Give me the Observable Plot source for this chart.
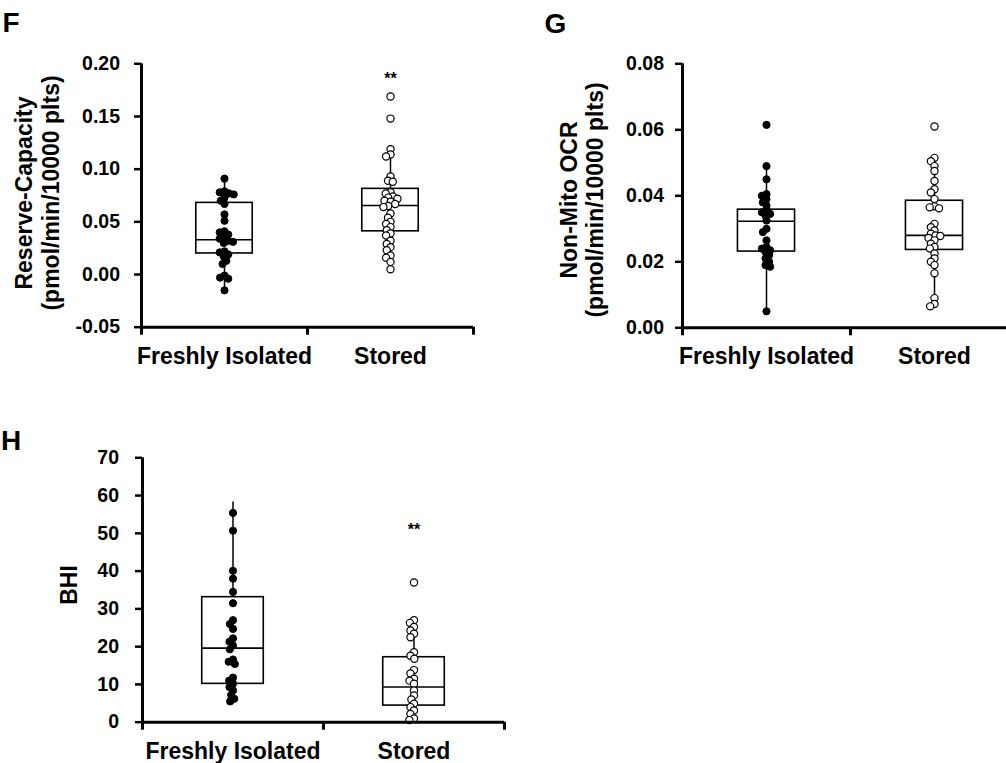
<!DOCTYPE html>
<html><head><meta charset="utf-8">
<script src="https://cdn.jsdelivr.net/npm/d3@7"></script>
<script src="https://cdn.jsdelivr.net/npm/@observablehq/plot@0.6"></script>
<style>
html,body{margin:0;padding:0;background:#fff;overflow:hidden;width:1006px;height:763px;}
#root{position:relative;width:1006px;height:763px;overflow:hidden;}
#root svg{position:absolute;overflow:visible;}
svg [aria-label^="fx-axis"] text{font-size:23px;}
svg [aria-label^="y-axis"] path, svg [aria-label^="y-axis"] line{stroke-width:2.5px;}
</style></head><body><div id="root"></div>
<script>
// ---- data ----
const groups = ["Freshly Isolated", "Stored"];

// Panel F: Reserve-Capacity
const fFresh = [0.091, 0.079, 0.078, 0.077, 0.076, 0.073, 0.070, 0.067, 0.057, 0.051, 0.041, 0.040, 0.038, 0.035, 0.034, 0.032, 0.031, 0.030, 0.022, 0.021, 0.019, 0.017, 0.013, 0.010, -0.001, -0.003, -0.004, -0.015];
const fStored = [0.169, 0.148, 0.119, 0.114, 0.112, 0.093, 0.089, 0.088, 0.078, 0.077, 0.074, 0.073, 0.072, 0.070, 0.069, 0.067, 0.065, 0.064, 0.058, 0.054, 0.050, 0.048, 0.045, 0.042, 0.039, 0.037, 0.032, 0.029, 0.026, 0.023, 0.018, 0.016, 0.012, 0.005];
const fBoxFresh = [-0.015, 0.020, 0.033, 0.068, 0.091];   // low, q1, median, q3, high
const fBoxStored = [0.005, 0.041, 0.0655, 0.0813, 0.117];
const fTicks = [-0.05, 0.00, 0.05, 0.10, 0.15, 0.20];
const fSig = ["", "**"];
const fSigAt = 0.186;

// Panel G: Non-Mito OCR
const gFresh = [0.0615, 0.049, 0.045, 0.0405, 0.040, 0.039, 0.038, 0.037, 0.0355, 0.035, 0.0345, 0.034, 0.0325, 0.030, 0.029, 0.0265, 0.0245, 0.024, 0.0235, 0.023, 0.022, 0.021, 0.020, 0.019, 0.0185, 0.005];
const gStored = [0.061, 0.0515, 0.0505, 0.049, 0.0475, 0.0445, 0.042, 0.041, 0.039, 0.0368, 0.0365, 0.0362, 0.0315, 0.0305, 0.0295, 0.0285, 0.028, 0.0278, 0.0272, 0.0265, 0.0255, 0.0245, 0.024, 0.0225, 0.021, 0.020, 0.019, 0.0165, 0.009, 0.0072, 0.0065];
const gBoxFresh = [0.005, 0.0231, 0.0323, 0.0358, 0.049];
const gBoxStored = [0.0065, 0.0236, 0.028, 0.0385, 0.0512];
const gTicks = [0.00, 0.02, 0.04, 0.06, 0.08];

// Panel H: BHI
const hFresh = [55.4, 50.7, 40.1, 38.0, 34.5, 31.5, 27.0, 26.0, 24.7, 22.2, 21.3, 20.3, 19.3, 16.6, 16.0, 15.4, 11.8, 11.0, 10.2, 9.3, 8.4, 7.2, 6.2, 5.5];
const hStored = [37.0, 27.0, 26.3, 25.2, 24.3, 23.4, 22.5, 18.5, 17.6, 16.8, 13.8, 12.9, 11.5, 11.0, 10.2, 8.4, 7.1, 6.0, 4.9, 4.0, 3.1, 2.2, 1.0, 0.6];
const hBoxFresh = [5.5, 10.15, 19.6, 33.1, 58.3];
const hBoxStored = [0, 4.4, 9.3, 17.2, 26.9];
const hTicks = [0, 10, 20, 30, 40, 50, 60, 70];
const hSig = ["", "**"];
const hSigAt = 50.8;

// ---- drawing ----
const FONT = '"Liberation Sans", Arial, Helvetica, sans-serif';
const HALF = 0.34; // box half-width within each band (band spans -1..1)
const DODGE = {anchor: "middle", padding: -2.3};

function panel(o) {
  const pts = (arr, g) => arr.map(v => ({group: g, v}));
  const boxes = [o.boxFresh, o.boxStored].map((b, i) => ({group: groups[i], lo: b[0], q1: b[1], med: b[2], q3: b[3], hi: b[4]}));
  const sig = (o.sig || []).map((s, i) => ({group: groups[i], s, v: o.sigAt})).filter(d => d.s);
  const lo = o.ticks[0], hi = o.ticks[o.ticks.length - 1];
  const edgeTicks = [{group: groups[0], x: -1}, ...groups.map(g => ({group: g, x: 1}))];
  const svg = Plot.plot({
    width: o.width, height: o.height,
    marginLeft: o.ml, marginRight: o.mr, marginTop: o.mt, marginBottom: o.mb,
    style: {fontFamily: FONT, fontWeight: "bold", fontSize: "19.5px", color: "#000", background: "transparent"},
    fx: {domain: groups, padding: 0, axis: "bottom", label: null, tickSize: 0, tickPadding: 20},
    x: {domain: [-1, 1], axis: null},
    y: {domain: [lo, hi], ticks: o.ticks, tickFormat: o.fmt, tickSize: 7, tickPadding: o.tp, label: null},
    marks: [
      Plot.ruleX(boxes, {fx: "group", x: () => 0, y1: "lo", y2: "hi", stroke: "#000", strokeWidth: 1.5}),
      Plot.rectY(boxes, {fx: "group", x1: () => -HALF, x2: () => HALF, y1: "q1", y2: "q3", fill: "white", stroke: "#000", strokeWidth: 1.6}),
      Plot.ruleY(boxes, {fx: "group", y: "med", x1: () => -HALF, x2: () => HALF, stroke: "#000", strokeWidth: 1.6}),
      Plot.dot(pts(o.fresh, groups[0]), Plot.dodgeX(DODGE, {fx: "group", y: "v", r: 3.6, fill: "#000", stroke: "#000", strokeWidth: 1})),
      Plot.dot(pts(o.stored, groups[1]), Plot.dodgeX(DODGE, {fx: "group", y: "v", r: 3.6, fill: "#fff", stroke: "#000", strokeWidth: 1.2})),
      Plot.text(sig, {fx: "group", x: () => 0, y: "v", text: "s", fontSize: 16, fontWeight: "bold"}),
      // axis lines
      Plot.ruleX([{group: groups[0]}], {fx: "group", x: () => -1, y1: () => lo, y2: () => hi, stroke: "#000", strokeWidth: 3}),
      Plot.ruleY([lo], {stroke: "#000", strokeWidth: 3}),
      Plot.ruleX(edgeTicks, {fx: "group", x: "x", y1: () => lo, y2: () => lo, insetBottom: -8, stroke: "#000", strokeWidth: 3})
    ]
  });
  svg.style.left = o.left + "px";
  svg.style.top = o.top + "px";
  const s = d3.select(svg);
  o.title.forEach((t, i) => {
    s.append("text")
      .attr("transform", `translate(${o.titleX[i]},${o.titleY}) rotate(-90)`)
      .attr("text-anchor", "middle")
      .attr("fill", "#000")
      .style("font-family", FONT).style("font-weight", "bold").style("font-size", "23px")
      .text(t);
  });
  s.append("text").attr("x", o.letterX).attr("y", o.letterY).attr("fill", "#000")
    .style("font-family", FONT).style("font-weight", "bold").style("font-size", "28px")
    .text(o.letter);
  document.getElementById("root").appendChild(svg);
}

const fmt2 = d => d.toFixed(2);

panel({left: 0, top: 0, width: 500, height: 380, ml: 140, mr: 27, mt: 63.3, mb: 53.3, tp: 14.5,
  fresh: fFresh, stored: fStored, boxFresh: fBoxFresh, boxStored: fBoxStored, ticks: fTicks, fmt: fmt2,
  sig: fSig, sigAt: fSigAt,
  title: ["Reserve-Capacity", "(pmol/min/10000 plts)"], titleX: [32, 59], titleY: 193,
  letter: "F", letterX: 11, letterY: 31.7});

panel({left: 500, top: 0, width: 530, height: 380, ml: 181.7, mr: 12, mt: 63.3, mb: 52.7, tp: 11.5,
  fresh: gFresh, stored: gStored, boxFresh: gBoxFresh, boxStored: gBoxStored, ticks: gTicks, fmt: fmt2,
  title: ["Non-Mito OCR", "(pmol/min/10000 plts)"], titleX: [77, 103], titleY: 200,
  letter: "G", letterX: 55.5, letterY: 32.5});

panel({left: 0, top: 380, width: 530, height: 383, ml: 141.7, mr: 26, mt: 77.3, mb: 41.3, tp: 16.5,
  fresh: hFresh, stored: hStored, boxFresh: hBoxFresh, boxStored: hBoxStored, ticks: hTicks, fmt: d => String(d),
  sig: hSig, sigAt: hSigAt,
  title: ["BHI"], titleX: [77.3], titleY: 205,
  letter: "H", letterX: 11, letterY: 70});
</script>
</body></html>
